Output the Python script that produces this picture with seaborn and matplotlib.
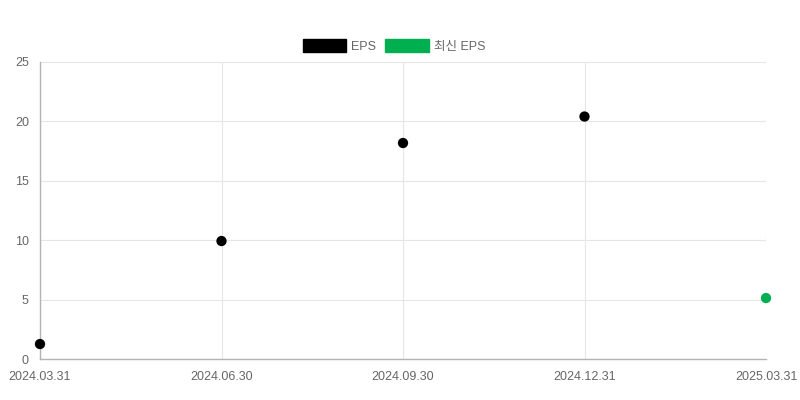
import matplotlib
matplotlib.use("Agg")
import matplotlib.pyplot as plt
import seaborn as sns
import pandas as pd
from matplotlib.patches import Patch

dates = ["2024.03.31", "2024.06.30", "2024.09.30", "2024.12.31", "2025.03.31"]
eps_values = [1.26, 9.93, 18.18, 20.41, 5.13]
series = ["EPS", "EPS", "EPS", "EPS", "최신 EPS"]
y_ticks = [0, 5, 10, 15, 20, 25]

colors = {"EPS": "#000000", "최신 EPS": "#00b050"}

sns.set_theme(style="white")
plt.rcParams["font.family"] = ["Liberation Sans", "Noto Sans CJK KR", "DejaVu Sans"]

df = pd.DataFrame({"x": range(len(dates)), "date": dates, "eps": eps_values, "series": series})

fig = plt.figure(figsize=(8, 4), dpi=100)
ax = fig.add_axes([0.05, 0.1025, 0.9075, 0.7425])

sns.scatterplot(data=df, x="x", y="eps", hue="series", palette=colors, s=55,
                edgecolor="none", legend=False, ax=ax, zorder=3, clip_on=False)

ax.set_xlim(0, len(dates) - 1)
ax.set_ylim(0, 25)
ax.set_xticks(range(len(dates)))
ax.set_xticklabels(dates)
ax.set_yticks(y_ticks)
ax.grid(True, color="#e6e6e6", linewidth=0.8)
ax.set_axisbelow(True)
for side in ["top", "right"]:
    ax.spines[side].set_visible(False)
for side in ["left", "bottom"]:
    ax.spines[side].set_color("#b3b3b3")
    ax.spines[side].set_linewidth(1)
ax.tick_params(axis="both", labelsize=9, length=6, width=0.8,
               direction="out", labelcolor="#666666", color="#e0e0e0")
ax.set_xlabel("")
ax.set_ylabel("")
ax.tick_params(axis="x", pad=3)
ax.tick_params(axis="y", pad=2)

handles = [Patch(facecolor=colors[k], edgecolor=colors[k]) for k in ["EPS", "최신 EPS"]]
fig.legend(handles, ["EPS", "최신 EPS"], loc="center", bbox_to_anchor=(0.4925, 0.885),
           ncol=2, frameon=False, handlelength=3.45, handleheight=1.2,
           handletextpad=0.4, columnspacing=0.75, fontsize=9, labelcolor="#666666")

fig.savefig("out.png", dpi=100)
